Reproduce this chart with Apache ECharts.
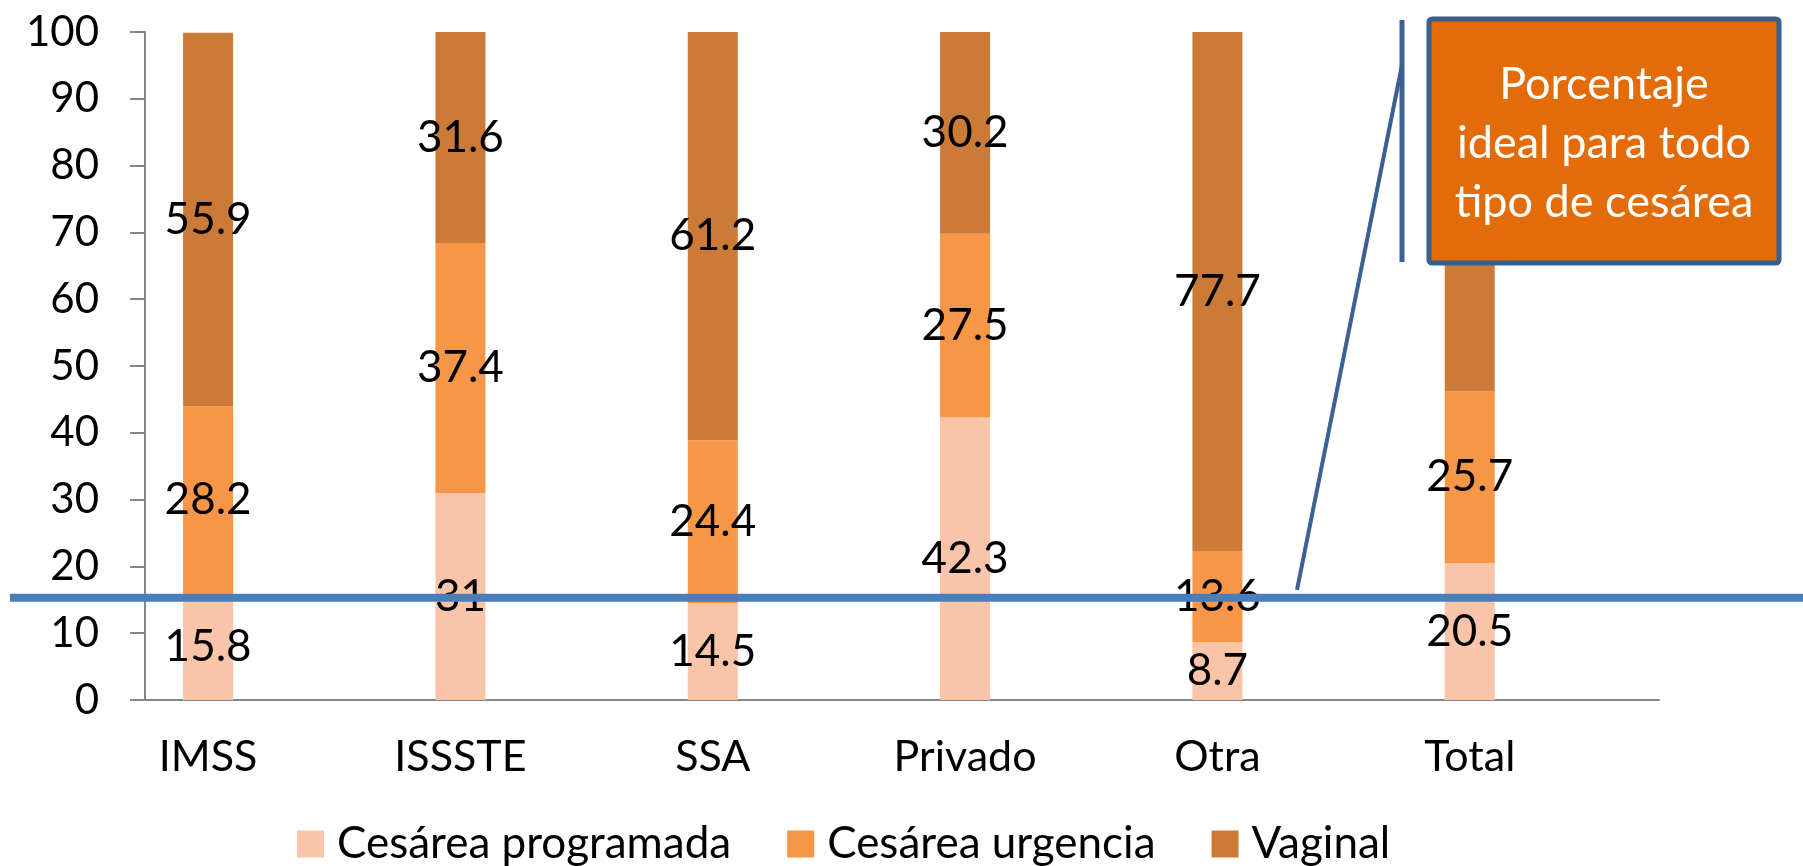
<!DOCTYPE html>
<html>
<head>
<meta charset="utf-8">
<script src="https://cdn.jsdelivr.net/npm/echarts@6/dist/echarts.min.js"></script>
<style>
  html, body { margin: 0; padding: 0; background: #fff; }
  #main { width: 1803px; height: 866px; }
</style>
</head>
<body>
<div id="main"></div>
<script>
// data
const institutions = ['IMSS', 'ISSSTE', 'SSA', 'Privado', 'Otra', 'Total'];
const programada = [15.8, 31, 14.5, 42.3, 8.7, 20.5];
const urgencia = [28.2, 37.4, 24.4, 27.5, 13.6, 25.7];
const vaginal = [55.9, 31.6, 61.2, 30.2, 77.7, 53.8];
const seriesNames = ['Cesárea programada', 'Cesárea urgencia', 'Vaginal'];
const idealLevel = 15.3;
const calloutLines = ['Porcentaje', 'ideal para todo', 'tipo de cesárea'];

// the sheet had an empty row after every institution
function spaced(arr, blank) {
  let out = [];
  arr.forEach(v => { out.push(v); out.push(blank); });
  return out;
}

let chart = echarts.init(document.getElementById('main'));
const axisGrey = '#868686';

function barSeries(name, data, color) {
  return {
    name: name,
    type: 'bar',
    stack: 'total',
    barWidth: 50,
    data: spaced(data, '-'),
    itemStyle: { color: color },
    label: {
      show: true,
      position: 'inside',
      color: '#000',
      fontSize: 44,
      fontFamily: 'Lato'
    }
  };
}

let option = {
  animation: false,
  textStyle: { fontFamily: 'Lato' },
  grid: { left: 145, right: 144, top: 32, bottom: 166 },
  legend: {
    data: seriesNames,
    left: 292,
    top: 817,
    icon: 'rect',
    itemWidth: 27,
    itemHeight: 27,
    itemGap: 56,
    textStyle: { fontSize: 44, color: '#000', fontFamily: 'Lato', padding: [0, 0, 0, 8] }
  },
  xAxis: {
    type: 'category',
    data: spaced(institutions, ''),
    axisLine: { lineStyle: { color: axisGrey, width: 2 } },
    axisTick: { interval: 0, length: 15, lineStyle: { color: axisGrey, width: 2 } },
    axisLabel: { interval: 0, fontSize: 43, color: '#000', margin: 36 }
  },
  yAxis: {
    type: 'value',
    min: 0,
    max: 100,
    interval: 10,
    axisLine: { show: true, lineStyle: { color: axisGrey, width: 2 } },
    axisTick: { show: true, length: 15, lineStyle: { color: axisGrey, width: 2 } },
    splitLine: { show: false },
    axisLabel: { fontSize: 42, color: '#000', margin: 46 }
  },
  series: [
    barSeries(seriesNames[0], programada, '#F9C4A8'),
    barSeries(seriesNames[1], urgencia, '#F79646'),
    barSeries(seriesNames[2], vaginal, '#CC7A38')
  ]
};

chart.setOption(option);

// reference line and callout box on top of the bars
let yIdeal = chart.convertToPixel({ yAxisIndex: 0 }, idealLevel);
chart.setOption({
  graphic: [
    {
      type: 'line', z: 100,
      shape: { x1: 10, y1: yIdeal, x2: 1803, y2: yIdeal },
      style: { stroke: '#4A7EBB', lineWidth: 8 }
    },
    {
      type: 'line', z: 100,
      shape: { x1: 1402, y1: 20, x2: 1402, y2: 262 },
      style: { stroke: '#3B6194', lineWidth: 5 }
    },
    {
      type: 'line', z: 100,
      shape: { x1: 1402, y1: 65, x2: 1297, y2: yIdeal - 8 },
      style: { stroke: '#3B6194', lineWidth: 4 }
    },
    {
      type: 'rect', z: 100,
      shape: { x: 1429, y: 19, width: 350, height: 244, r: 3 },
      style: { fill: '#E36C09', stroke: '#3A5F8B', lineWidth: 5 }
    },
    {
      type: 'text', z: 101,
      x: 1604, y: 143,
      style: {
        text: calloutLines.join('\n'),
        align: 'center',
        verticalAlign: 'middle',
        fill: '#fff',
        font: '45px Lato',
        lineHeight: 59
      }
    }
  ]
});
</script>
</body>
</html>
